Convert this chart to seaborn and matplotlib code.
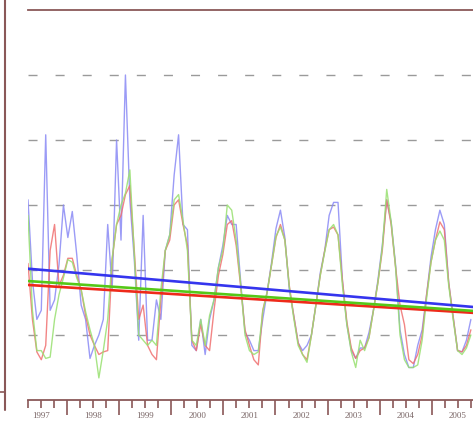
import numpy as np
import pandas as pd
import matplotlib
matplotlib.use("Agg")
import matplotlib.pyplot as plt
from matplotlib.lines import Line2D
import seaborn as sns

# ---- data (y axis unlabelled, arbitrary units) ----
series_blue = [15.4, 9.2, 6.2, 6.9, 20.4, 6.9, 7.7, 10.4, 15.0, 12.5,
               14.5, 11.2, 7.3, 6.2, 3.2, 4.2, 5.0, 6.2, 13.5, 8.5,
               20.0, 12.3, 25.0, 15.4, 10.8, 4.6, 14.2, 4.6, 4.6, 7.7,
               6.2, 11.5, 12.7, 17.3, 20.4, 13.5, 13.1, 4.2, 3.8, 6.2,
               3.5, 6.2, 7.7, 10.2, 11.9, 14.2, 13.5, 13.5, 9.2, 5.2,
               4.6, 3.8, 3.8, 6.2, 8.3, 10.6, 13.2, 14.6, 12.5, 8.5,
               6.5, 4.4, 3.8, 4.2, 5.0, 7.3, 9.8, 11.5, 14.2, 15.2,
               15.2, 9.2, 5.8, 3.8, 3.2, 4.0, 4.0, 5.2, 6.9, 9.2,
               11.9, 15.4, 13.7, 10.4, 5.4, 3.5, 2.5, 2.5, 4.2, 5.4,
               8.1, 11.0, 13.1, 14.6, 13.5, 9.0, 6.4, 3.8, 3.7, 4.6, 6.2]
series_red = [10.5, 6.2, 3.7, 3.1, 4.2, 11.5, 13.5, 8.8, 9.6, 10.9,
              10.9, 9.6, 8.5, 6.5, 5.0, 4.2, 3.5, 3.7, 3.8, 10.8,
              13.5, 14.2, 15.8, 16.5, 11.5, 6.2, 7.3, 4.2, 3.5, 3.1,
              7.7, 11.5, 12.3, 15.0, 15.4, 13.5, 11.9, 4.6, 3.8, 5.8,
              4.2, 3.8, 6.9, 9.6, 11.2, 13.5, 13.8, 11.9, 8.8, 5.4,
              4.2, 3.1, 2.7, 6.9, 8.3, 10.4, 12.5, 13.5, 12.3, 8.8,
              6.5, 4.4, 3.5, 3.1, 5.0, 7.3, 9.6, 11.5, 13.1, 13.3,
              12.7, 9.2, 6.0, 4.0, 3.2, 3.8, 4.0, 4.8, 6.9, 9.0,
              11.5, 15.4, 13.5, 10.2, 7.3, 5.8, 3.1, 2.8, 3.5, 5.0,
              8.1, 10.6, 12.3, 13.7, 13.1, 9.0, 6.4, 3.8, 3.7, 4.2, 5.4]
series_green = [14.2, 6.9, 3.8, 3.8, 3.2, 3.3, 6.2, 8.1, 9.4, 10.8,
                10.6, 9.4, 8.5, 6.8, 5.4, 4.2, 1.7, 3.8, 6.2, 10.9,
                13.5, 15.0, 15.9, 17.7, 11.2, 5.0, 4.6, 4.2, 4.6, 4.2,
                8.5, 11.5, 12.7, 15.4, 15.8, 13.8, 11.5, 4.6, 4.2, 6.2,
                4.2, 6.5, 7.7, 10.2, 11.5, 15.0, 14.6, 12.3, 9.0, 5.0,
                3.8, 3.5, 3.7, 6.8, 8.3, 10.4, 12.6, 13.3, 12.3, 8.7,
                6.3, 4.2, 3.5, 2.9, 5.0, 7.3, 9.6, 11.4, 13.1, 13.5,
                12.7, 8.8, 5.8, 3.7, 2.5, 4.6, 3.8, 4.8, 6.9, 9.0,
                11.7, 16.2, 13.7, 10.2, 5.0, 3.1, 2.5, 2.5, 2.7, 4.6,
                7.8, 10.6, 12.3, 13.0, 12.3, 8.8, 6.2, 3.8, 3.5, 4.0, 5.0]

series_names = ["blue", "red", "green"]
trend_start = [10.1, 8.85, 9.15]   # value of each trend at the left edge
trend_end = [7.15, 6.7, 6.85]      # value of each trend at the right edge
x_start, x_end = 1997.25, 2005.81
year_labels = ["1997", "1998", "1999", "2000", "2001", "2002", "2003", "2004", "2005"]

# ---- build tables ----
t = np.linspace(1997.25, 2005.75, len(series_blue))
df = pd.DataFrame({
    "t": np.concatenate([t, t, t]),
    "v": series_blue + series_red + series_green,
    "series": ["blue"] * len(t) + ["red"] * len(t) + ["green"] * len(t),
})
trend = pd.DataFrame({
    "t": [x_start, x_end] * 3,
    "v": [trend_start[0], trend_end[0], trend_start[1], trend_end[1],
          trend_start[2], trend_end[2]],
    "series": ["blue", "blue", "red", "red", "green", "green"],
})

sns.set_style("white")
fig = plt.figure(figsize=(4.73, 4.22), dpi=100)
ax = fig.add_axes([28 / 473, 22 / 422, 446 / 473, 390 / 422])

frame_col = "#8a5858"

# dashed gridlines
for g in [5, 10, 15, 20, 25]:
    ax.axhline(g, color="#9a9a9a", lw=1.0, dashes=(6.5, 13), zorder=0)

pal_series = {"blue": "#8a8af5", "red": "#f07070", "green": "#98e070"}
sns.lineplot(data=df, x="t", y="v", hue="series", palette=pal_series,
             hue_order=series_names, lw=1.0, alpha=0.85, legend=False, ax=ax,
             estimator=None, sort=False)

pal_trend = {"blue": "#3535ee", "red": "#ee2a1a", "green": "#55c818"}
sns.lineplot(data=trend, x="t", y="v", hue="series", palette=pal_trend,
             hue_order=series_names, lw=1.9, legend=False, ax=ax,
             estimator=None, sort=False)

ax.set_xlim(x_start, x_end)
ax.set_ylim(0, 30)
ax.set_xlabel("")
ax.set_ylabel("")
ax.set_yticks([])

for s in ["left", "right"]:
    ax.spines[s].set_visible(False)
for s in ["top", "bottom"]:
    ax.spines[s].set_visible(True)
    ax.spines[s].set_color(frame_col)
    ax.spines[s].set_linewidth(1.3)

years = np.arange(1998, 2006)
quarters = [y + q for y in range(1997, 2006) for q in (0.25, 0.5, 0.75)]
quarters = [q for q in quarters if x_start <= q <= x_end]
ax.set_xticks(years)
ax.set_xticklabels([""] * len(years))
ax.set_xticks(quarters, minor=True)
qlabels = []
for q in quarters:
    if abs(q - np.floor(q) - 0.5) < 1e-6:
        qlabels.append(str(int(np.floor(q))))
    else:
        qlabels.append("")
ax.set_xticklabels(qlabels, minor=True)
ax.tick_params(axis="x", which="major", direction="out", length=11,
               width=1.2, color=frame_col, bottom=True)
ax.tick_params(axis="x", which="minor", direction="out", length=5.5,
               width=1.2, color=frame_col, bottom=True, pad=3,
               labelsize=6.5, labelcolor="#7a6666")
for lab in ax.get_xticklabels(minor=True):
    lab.set_family("Liberation Serif")

# left frame line of the surrounding panel
fig.add_artist(Line2D([5 / 473, 5 / 473], [1.0, 1 - 410 / 422],
                      color=frame_col, lw=1.5, transform=fig.transFigure))
fig.add_artist(Line2D([0, 5 / 473], [1 - 392 / 422, 1 - 392 / 422],
                      color=frame_col, lw=1.2, transform=fig.transFigure))

fig.savefig("out.png", dpi=100)
